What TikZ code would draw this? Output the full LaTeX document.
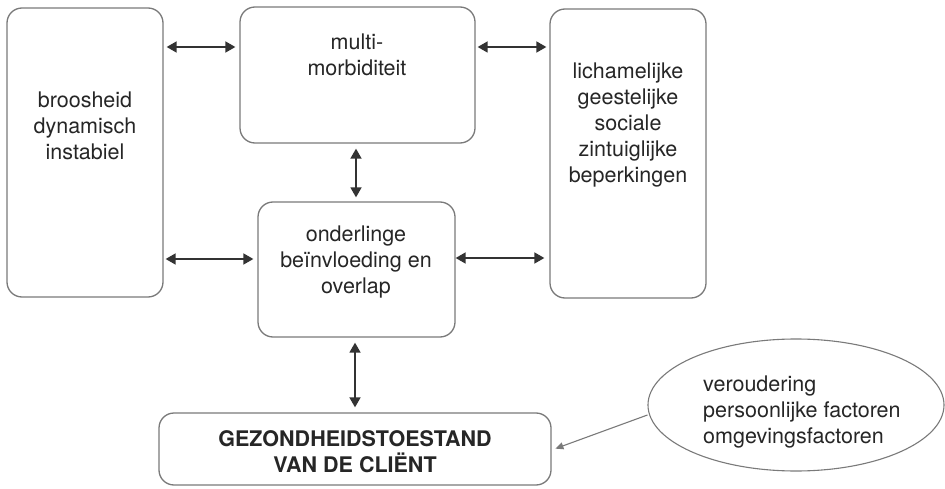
\documentclass[tikz,border=0pt]{standalone}
\usepackage{fontspec}
\setmainfont{TeX Gyre Heros}
\usetikzlibrary{arrows.meta,shapes.geometric}
\definecolor{boxgray}{HTML}{7A7A7A}
\definecolor{ink}{HTML}{262626}
\definecolor{arrgray}{HTML}{333333}
\begin{document}
\begin{tikzpicture}[x=1pt,y=-1pt,
  box/.style={draw=boxgray,line width=1.3pt,rounded corners=15pt,rectangle,inner sep=0pt,fill=white},
  txt/.style={text=ink,align=center,inner sep=0pt,font=\fontsize{21.5}{26}\selectfont},
  arr/.style={draw=arrgray,line width=1.7pt,{Triangle[length=10pt,width=11pt]}-{Triangle[length=10pt,width=11pt]}},
  thinarr/.style={draw=boxgray,line width=1.1pt,-{Triangle[length=8pt,width=7pt]}}]
\useasboundingbox[fill=white] (0,0) rectangle (945,489);
% boxes
\node[box,minimum width=156pt,minimum height=289pt] (L) at (85,152.5) {};
\node[box,minimum width=235pt,minimum height=136pt] (T) at (357.5,75) {};
\node[box,minimum width=156pt,minimum height=289pt] (R) at (628,153.5) {};
\node[box,minimum width=197pt,minimum height=135pt] (M) at (356.5,269.5) {};
\node[box,minimum width=392pt,minimum height=72pt] (B) at (355,449) {};
\node[draw=boxgray,line width=1.1pt,ellipse,minimum width=296pt,minimum height=132pt,inner sep=0pt] (E) at (796,405) {};
% texts
\node[txt] (Lt) at (85,126) {broosheid\\dynamisch\\instabiel};
\node[txt] (Tt) at (357,55) {multi-\\morbiditeit};
\node[txt] (Mt) at (356,262) {onderlinge\\beïnvloeding en\\overlap};
\node[txt] (Rt) at (628,125) {lichamelijke\\geestelijke\\sociale\\zintuiglijke\\beperkingen};
\node[txt,font=\fontsize{21.5}{26}\selectfont\bfseries] (Bt) at (355,452) {GEZONDHEIDSTOESTAND\\VAN DE CLIËNT};
\node[txt,align=left,anchor=west] (Et) at (703,412) {veroudering\\persoonlijke factoren\\omgevingsfactoren};
% connectors
\draw[arr,shorten <=3pt,shorten >=4pt] (L.east |- 0,47) -- (T.west |- 0,47);
\draw[arr,shorten <=2pt,shorten >=3pt] (T.east |- 0,47) -- (R.west |- 0,47);
\draw[arr,shorten <=2pt,shorten >=4pt] (L.east |- 0,259) -- (M.west |- 0,259);
\draw[arr,shorten <=0pt,shorten >=5pt] (M.east |- 0,258) -- (R.west |- 0,258);
\draw[arr,shorten <=5pt,shorten >=4pt] (T.south -| 356,0) -- (M.north -| 356,0);
\draw[arr,shorten <=5pt,shorten >=5pt] (M.south -| 355,0) -- (B.north -| 355,0);
\draw[thinarr,shorten >=4pt] (E.west |- 0,415) -- (B.east |- 0,450);
\end{tikzpicture}
\end{document}
